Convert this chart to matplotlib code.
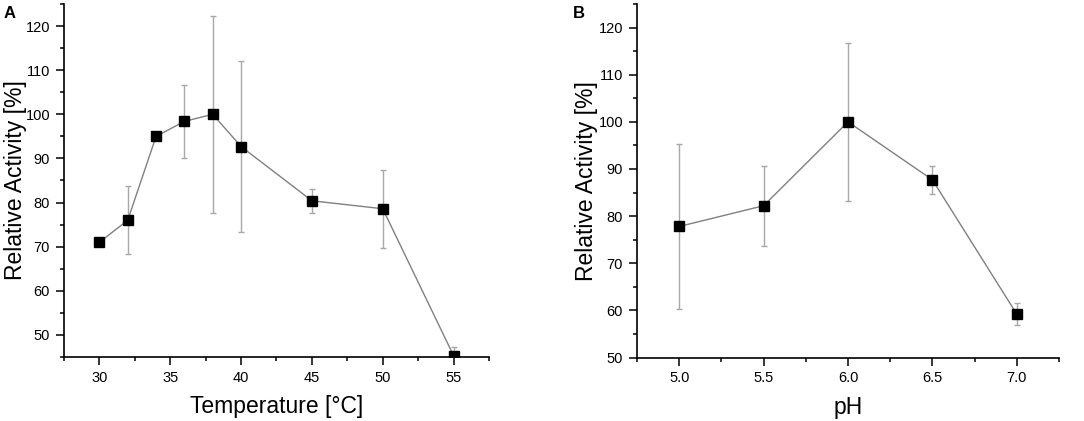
import numpy as np
import matplotlib.pyplot as plt
from matplotlib.ticker import MultipleLocator

plt.rcParams.update({
    "font.family": ["Liberation Sans", "DejaVu Sans"],
    "xtick.labelsize": 10.5,
    "ytick.labelsize": 10.5,
    "axes.labelsize": 16.5,
})

# Panel A: temperature
temp = [30, 32, 34, 36, 38, 40, 45, 50, 55]
temp_act = [71.0, 76.0, 95.0, 98.4, 100.0, 92.7, 80.4, 78.6, 45.3]
temp_err = [0.4, 7.7, 0.6, 8.3, 22.3, 19.4, 2.75, 8.8, 1.9]

# Panel B: pH
ph = [5.0, 5.5, 6.0, 6.5, 7.0]
ph_act = [77.8, 82.2, 100.0, 87.7, 59.2]
ph_err = [17.6, 8.5, 16.7, 3.0, 2.35]

fig = plt.figure(figsize=(10.84, 4.21), dpi=100)
axA = fig.add_axes([64/1084, 64/421, 425/1084, 353/421])
axB = fig.add_axes([637/1084, 63.5/421, 422/1084, 353.5/421])


def draw(ax, x, y, err):
    ax.errorbar(x, y, yerr=err, fmt='none', ecolor='#a8a8a8', elinewidth=1,
                capsize=2.5, capthick=1, zorder=1)
    ax.plot(x, y, color='#808080', lw=1, zorder=2)
    ax.plot(x, y, 's', color='black', ms=7, zorder=3)
    for s in ['top', 'right']:
        ax.spines[s].set_visible(False)
    for s in ['left', 'bottom']:
        ax.spines[s].set_linewidth(1.2)
    ax.tick_params(which='major', direction='out', length=6, width=1.1, pad=4)
    ax.tick_params(which='minor', direction='out', length=3, width=1.1)
    ax.set_ylabel('Relative Activity [%]')


draw(axA, temp, temp_act, temp_err)
axA.set_xlim(27.5, 57.5)
axA.set_ylim(45, 125)
axA.xaxis.set_major_locator(MultipleLocator(5))
axA.xaxis.set_minor_locator(MultipleLocator(2.5))
axA.yaxis.set_minor_locator(MultipleLocator(5))
axA.set_yticks([50, 60, 70, 80, 90, 100, 110, 120])
axA.set_xlabel('Temperature [°C]')
axA.yaxis.set_label_coords(-0.088, 0.5)
axA.xaxis.set_label_coords(0.5, -0.108)

draw(axB, ph, ph_act, ph_err)
axB.set_xlim(4.75, 7.25)
axB.set_ylim(50, 125)
axB.xaxis.set_major_locator(MultipleLocator(0.5))
axB.xaxis.set_minor_locator(MultipleLocator(0.25))
axB.yaxis.set_minor_locator(MultipleLocator(5))
axB.set_yticks([50, 60, 70, 80, 90, 100, 110, 120])
axB.xaxis.set_major_formatter(plt.FormatStrFormatter('%.1f'))
axB.set_xlabel('pH')
axB.yaxis.set_label_coords(-0.092, 0.5)
axB.xaxis.set_label_coords(0.5, -0.108)

fig.text(4/1084, 1 - 18/421, 'A', fontsize=12, fontweight='bold')
fig.text(573/1084, 1 - 18/421, 'B', fontsize=12, fontweight='bold')

fig.savefig('out.png', dpi=100)
